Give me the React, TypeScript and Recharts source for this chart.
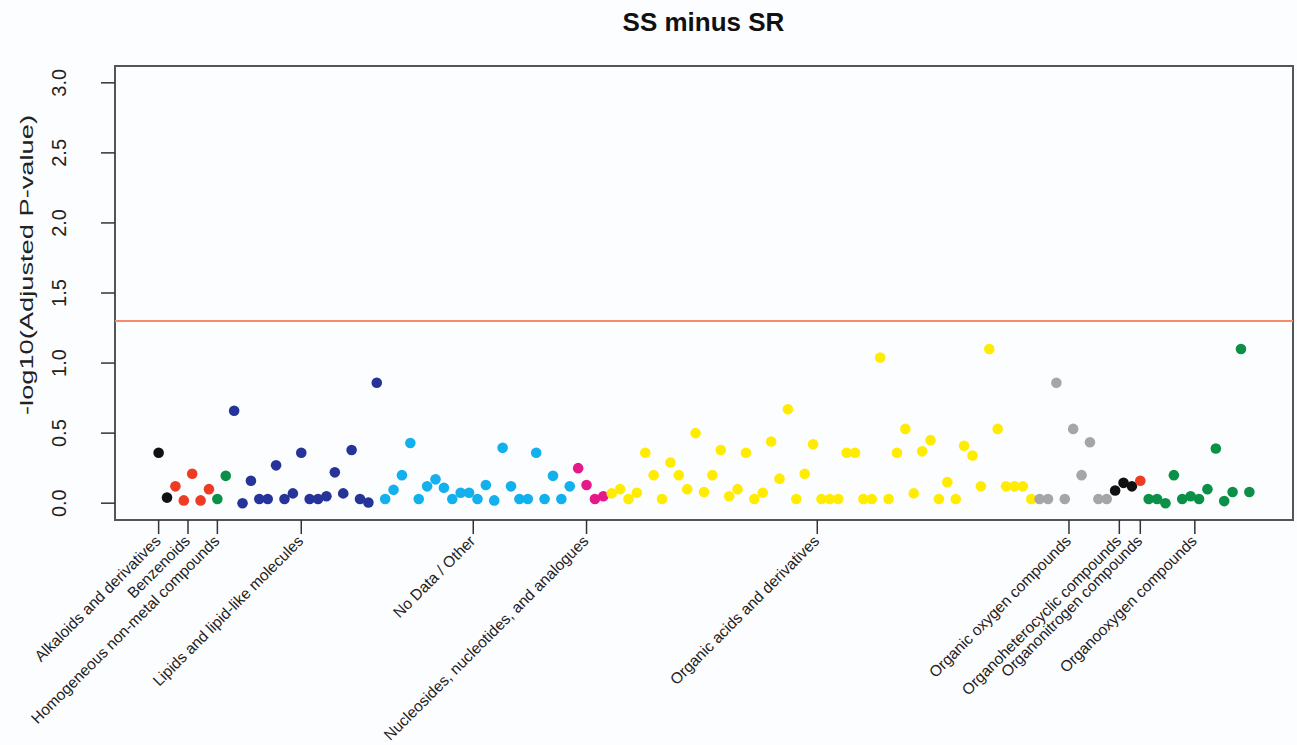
import {
  ReferenceArea,
  ReferenceLine,
  Scatter,
  ScatterChart,
  XAxis,
  YAxis,
} from "recharts";

// class names, in the order they appear along the x axis
const categories = [
  "Alkaloids and derivatives",
  "Benzenoids",
  "Homogeneous non-metal compounds",
  "Lipids and lipid-like molecules",
  "No Data / Other",
  "Nucleosides, nucleotides, and analogues",
  "Organic acids and derivatives",
  "Organic oxygen compounds",
  "Organoheterocyclic compounds",
  "Organonitrogen compounds",
  "Organooxygen compounds",
];

// where each class label sits on the x axis (point index units)
const categoryTicks = [0, 3.5, 7, 17, 37.5, 51, 78.5, 108.5, 114.5, 117, 123.5];

const categoryColors = [
  "#111111",
  "#ee3b24",
  "#0a9147",
  "#26349a",
  "#12b0ec",
  "#e5198a",
  "#ffec00",
  "#a6a6a6",
  "#111111",
  "#ee3b24",
  "#0a9147",
];

// -log10(adjusted p) per metabolite, grouped by class
const alkaloids = [0.36, 0.04];
const benzenoids = [0.12, 0.02, 0.21, 0.02, 0.1];
const homogeneousNonMetal = [0.03, 0.195];
const lipids = [
  0.66, 0.0, 0.16, 0.03, 0.03, 0.27, 0.03, 0.07, 0.36, 0.03, 0.03, 0.05, 0.22,
  0.07, 0.38, 0.03, 0.005, 0.86,
];
const noData = [
  0.03, 0.095, 0.2, 0.43, 0.03, 0.12, 0.17, 0.11, 0.03, 0.075, 0.075, 0.03,
  0.13, 0.02, 0.395, 0.12, 0.03, 0.03, 0.36, 0.03, 0.195, 0.03, 0.12,
];
const nucleosides = [0.25, 0.13, 0.03, 0.05];
const organicAcids = [
  0.07, 0.1, 0.03, 0.075, 0.36, 0.2, 0.03, 0.29, 0.2, 0.1, 0.5, 0.08, 0.2,
  0.38, 0.05, 0.1, 0.36, 0.03, 0.075, 0.44, 0.175, 0.67, 0.03, 0.21, 0.42,
  0.03, 0.03, 0.03, 0.36, 0.36, 0.03, 0.03, 1.04, 0.03, 0.36, 0.53, 0.07, 0.37,
  0.45, 0.03, 0.15, 0.03, 0.41, 0.34, 0.12, 1.1, 0.53, 0.12, 0.12, 0.12, 0.03,
];
const organicOxygen = [0.03, 0.03, 0.86, 0.03, 0.53, 0.2, 0.435, 0.03, 0.03];
const organoheterocyclic = [0.09, 0.145, 0.12];
const organonitrogen = [0.16];
const organooxygen = [
  0.03, 0.03, 0.0, 0.2, 0.03, 0.05, 0.03, 0.1, 0.39, 0.015, 0.08, 1.1, 0.08,
];

const yTicks = [0, 0.5, 1, 1.5, 2, 2.5, 3];
const threshold = -Math.log10(0.05);

const groups = [
  alkaloids,
  benzenoids,
  homogeneousNonMetal,
  lipids,
  noData,
  nucleosides,
  organicAcids,
  organicOxygen,
  organoheterocyclic,
  organonitrogen,
  organooxygen,
];

const points: { idx: number; value: number; color: string }[] = [];
groups.forEach((values, g) => {
  values.forEach((value) => {
    points.push({ idx: points.length, value, color: categoryColors[g] });
  });
});

const xDomain: [number, number] = [-5.2, 135.2];
const yDomain: [number, number] = [-0.12, 3.12];

const FONT = "'Liberation Sans', Arial, Helvetica, sans-serif";

function XTick(props: any) {
  const { x, y, payload } = props;
  const label = categories[categoryTicks.indexOf(payload.value)];
  const tx = x + 3;
  return (
    <text
      x={tx}
      y={y}
      transform={`rotate(-45, ${tx}, ${y})`}
      textAnchor="end"
      fontSize={15.5}
      fontFamily={FONT}
      fill="#222"
    >
      {label}
    </text>
  );
}

function YTick(props: any) {
  const { x, y, payload } = props;
  return (
    <text
      x={x}
      y={y}
      transform={`rotate(-90, ${x}, ${y})`}
      textAnchor="middle"
      fontSize={20}
      fontFamily={FONT}
      fill="#222"
    >
      {payload.value.toFixed(1)}
    </text>
  );
}

function Dot(props: any) {
  const { cx, cy, payload } = props;
  return <circle cx={cx} cy={cy} r={5.3} fill={payload.color} />;
}

export default function App() {
  return (
    <div
      style={{
        position: "absolute",
        left: 0,
        top: 0,
        width: 1297,
        height: 745,
        background: "#fcfdff",
      }}
    >
      <ScatterChart
        width={1297}
        height={745}
        margin={{ top: 66, right: 4, bottom: 25, left: 55 }}
      >
        <XAxis
          type="number"
          dataKey="idx"
          domain={xDomain}
          allowDataOverflow
          ticks={categoryTicks}
          interval={0}
          height={200}
          axisLine={false}
          tickSize={14}
          tickMargin={8}
          tickLine={{ stroke: "#333", strokeWidth: 1.5 }}
          tick={<XTick />}
        />
        <YAxis
          type="number"
          dataKey="value"
          domain={yDomain}
          allowDataOverflow
          ticks={yTicks}
          width={60}
          axisLine={false}
          tickSize={14}
          tickMargin={35}
          tickLine={{ stroke: "#333", strokeWidth: 1.5 }}
          tick={<YTick />}
        />
        <ReferenceArea
          x1={xDomain[0]}
          x2={xDomain[1]}
          y1={yDomain[0]}
          y2={yDomain[1]}
          fill="none"
          fillOpacity={0}
          stroke="#555"
          strokeWidth={2}
        />
        <ReferenceLine y={threshold} stroke="#f58b6a" strokeWidth={2} />
        <Scatter
          data={points}
          shape={<Dot />}
          isAnimationActive={false}
        />
      </ScatterChart>
      <svg
        width={1297}
        height={745}
        style={{ position: "absolute", left: 0, top: 0, pointerEvents: "none" }}
      >
        <text
          x={703.5}
          y={30.5}
          textAnchor="middle"
          fontSize={26}
          fontWeight="bold"
          fontFamily={FONT}
          fill="#111"
        >
          SS minus SR
        </text>
        <text
          x={33}
          y={265}
          transform="rotate(-90, 33, 265)"
          textAnchor="middle"
          fontSize={19}
          fontFamily={FONT}
          fill="#222"
          textLength={300}
          lengthAdjust="spacingAndGlyphs"
        >
          -log10(Adjusted P-value)
        </text>
      </svg>
    </div>
  );
}
